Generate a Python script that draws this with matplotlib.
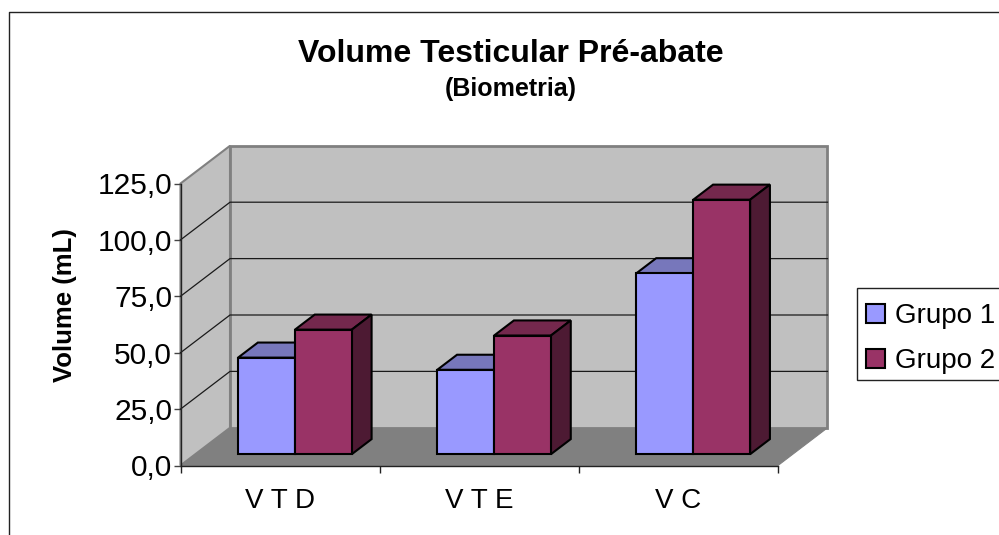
import matplotlib
matplotlib.use("Agg")
import matplotlib.pyplot as plt
from matplotlib.lines import Line2D
from matplotlib.patches import Polygon, Rectangle

plt.rcParams['font.family'] = ['Liberation Sans', 'DejaVu Sans']

# Datos
categorias = ["V T D", "V T E", "V C"]
grupo_1 = [42.8, 37.4, 80.2]
grupo_2 = [55.2, 52.6, 112.8]
marcas_y = [0, 25, 50, 75, 100, 125]
etiquetas_y = ["0,0", "25,0", "50,0", "75,0", "100,0", "125,0"]
nombres = ["Grupo 1", "Grupo 2"]

# Tamano de la imagen y del plano frontal, en pixeles
ANCHO, ALTO = 999, 535
IZQ, DER, ARRIBA, ABAJO = 180.5, 778, 183.5, 465.5

# Profundidad del "3D" en unidades de los ejes
PROF_X = 49.5 / ((DER - IZQ) / 3)
PROF_Y = 37.7 / ((ABAJO - ARRIBA) / 125)
ANCHO_BARRA = 0.2855
D0, D1 = 0.30, 0.70  # Donde empieza y termina la barra en la profundidad

fig = plt.figure(figsize=(ANCHO / 100, ALTO / 100), dpi=100)
ax = fig.add_axes([IZQ / ANCHO, 1 - ABAJO / ALTO, (DER - IZQ) / ANCHO, (ABAJO - ARRIBA) / ALTO])
ax.set_xlim(0, len(categorias))
ax.set_ylim(0, marcas_y[-1])
ax.patch.set_visible(False)


# Agrega un poligono con vertices (x, y, profundidad)
def cara(puntos, color, borde, lw, z):
    xy = [(x + p * PROF_X, y + p * PROF_Y) for x, y, p in puntos]
    ax.add_patch(Polygon(xy, closed=True, facecolor=color, edgecolor=borde, linewidth=lw,
                         zorder=z, clip_on=False, joinstyle='miter'))


n = len(categorias)
tope = marcas_y[-1]

# Piso y paredes
cara([(0, 0, 0), (n, 0, 0), (n, 0, 1), (0, 0, 1)], '#808080', '#808080', 0.8, 1)
cara([(0, 0, 0), (0, 0, 1), (0, tope, 1), (0, tope, 0)], '#C0C0C0', '#808080', 1.5, 1)
cara([(0, 0, 1), (n, 0, 1), (n, tope, 1), (0, tope, 1)], '#C0C0C0', '#808080', 2.0, 1)

# Lineas de la cuadricula sobre las paredes
for v in marcas_y[1:-1]:
    ax.plot([0, PROF_X, n + PROF_X], [v, v + PROF_Y, v + PROF_Y], color='#1a1a1a', lw=0.9,
            zorder=2, clip_on=False)


# Dibuja una serie: la cara frontal con ax.bar y las otras dos como poligonos
def serie(posiciones, valores, color, c_arriba, c_lado, nombre, z):
    base = D0 * PROF_Y
    xs = [x + D0 * PROF_X for x in posiciones]
    barras = ax.bar(xs, valores, ANCHO_BARRA, bottom=base, color=color, edgecolor='black',
                    linewidth=1.5, label=nombre, zorder=z + 0.2, clip_on=False)
    dp = D1 - D0
    for x, v in zip(xs, valores):
        i = x - ANCHO_BARRA / 2
        d = x + ANCHO_BARRA / 2
        a = v + base
        sube_x, sube_y = dp * PROF_X, dp * PROF_Y
        ax.add_patch(Polygon([(i, a), (d, a), (d + sube_x, a + sube_y), (i + sube_x, a + sube_y)],
                             facecolor=c_arriba, edgecolor='black', linewidth=1.5, zorder=z,
                             clip_on=False))
        ax.add_patch(Polygon([(d, base), (d + sube_x, base + sube_y), (d + sube_x, a + sube_y), (d, a)],
                             facecolor=c_lado, edgecolor='black', linewidth=1.5, zorder=z,
                             clip_on=False))
    return barras


pos_1 = [i + 0.5 - ANCHO_BARRA / 2 for i in range(n)]
pos_2 = [i + 0.5 + ANCHO_BARRA / 2 for i in range(n)]
b1 = serie(pos_1, grupo_1, '#9999FF', '#7777BB', '#4D4D80', nombres[0], 3)
b2 = serie(pos_2, grupo_2, '#993366', '#74284D', '#4D1A33', nombres[1], 4)

# Ejes
for lado in ['top', 'right']:
    ax.spines[lado].set_visible(False)
for lado in ['left', 'bottom']:
    ax.spines[lado].set_color('#222222')
    ax.spines[lado].set_linewidth(1.0)
    ax.spines[lado].set_zorder(6)
ax.set_yticks(marcas_y, etiquetas_y, fontsize=21.5)
ax.set_xticks(range(n + 1), [""] * (n + 1))
ax.set_xticks([i + 0.5 for i in range(n)], categorias, minor=True, fontsize=20)
ax.tick_params(axis='x', which='minor', length=0, pad=16)
ax.tick_params(axis='x', which='major', length=5, width=1.0, color='#222222')
ax.tick_params(axis='y', length=5, width=1.0, color='#444444', pad=1)

# Titulos y etiqueta del eje Y
fig.text(511 / ANCHO, 1 - 54.5 / ALTO, "Volume Testicular Pré-abate", ha='center', va='center',
         fontsize=23, fontweight='bold')
fig.text(511 / ANCHO, 1 - 89 / ALTO, "(Biometria)", ha='center', va='center',
         fontsize=18, fontweight='bold')
fig.text(65 / ANCHO, 1 - 305.5 / ALTO, "Volume (mL)", rotation=90, ha='center', va='center',
         fontsize=18.5, fontweight='bold')

# Caja de la leyenda, cortada por el borde derecho como en la original
fig.add_artist(Rectangle((856.5 / ANCHO, 1 - 380 / ALTO), 200 / ANCHO, 92 / ALTO, facecolor='white',
                         edgecolor='#222222', linewidth=1.0, transform=fig.transFigure, zorder=1))
fig.legend(handles=[b1, b2], loc='upper left', bbox_to_anchor=(856 / ANCHO, 1 - 293 / ALTO),
           borderaxespad=0, frameon=False, fontsize=20,
           handlelength=0.68, handleheight=0.68, handletextpad=0.36, labelspacing=0.69,
           borderpad=0.36)

# Marco exterior
fig.add_artist(Line2D([8.5 / ANCHO, 8.5 / ANCHO, 1], [0, 1 - 12 / ALTO, 1 - 12 / ALTO],
                      color='#222222', lw=1.0))

fig.savefig("out.png", dpi=100)
